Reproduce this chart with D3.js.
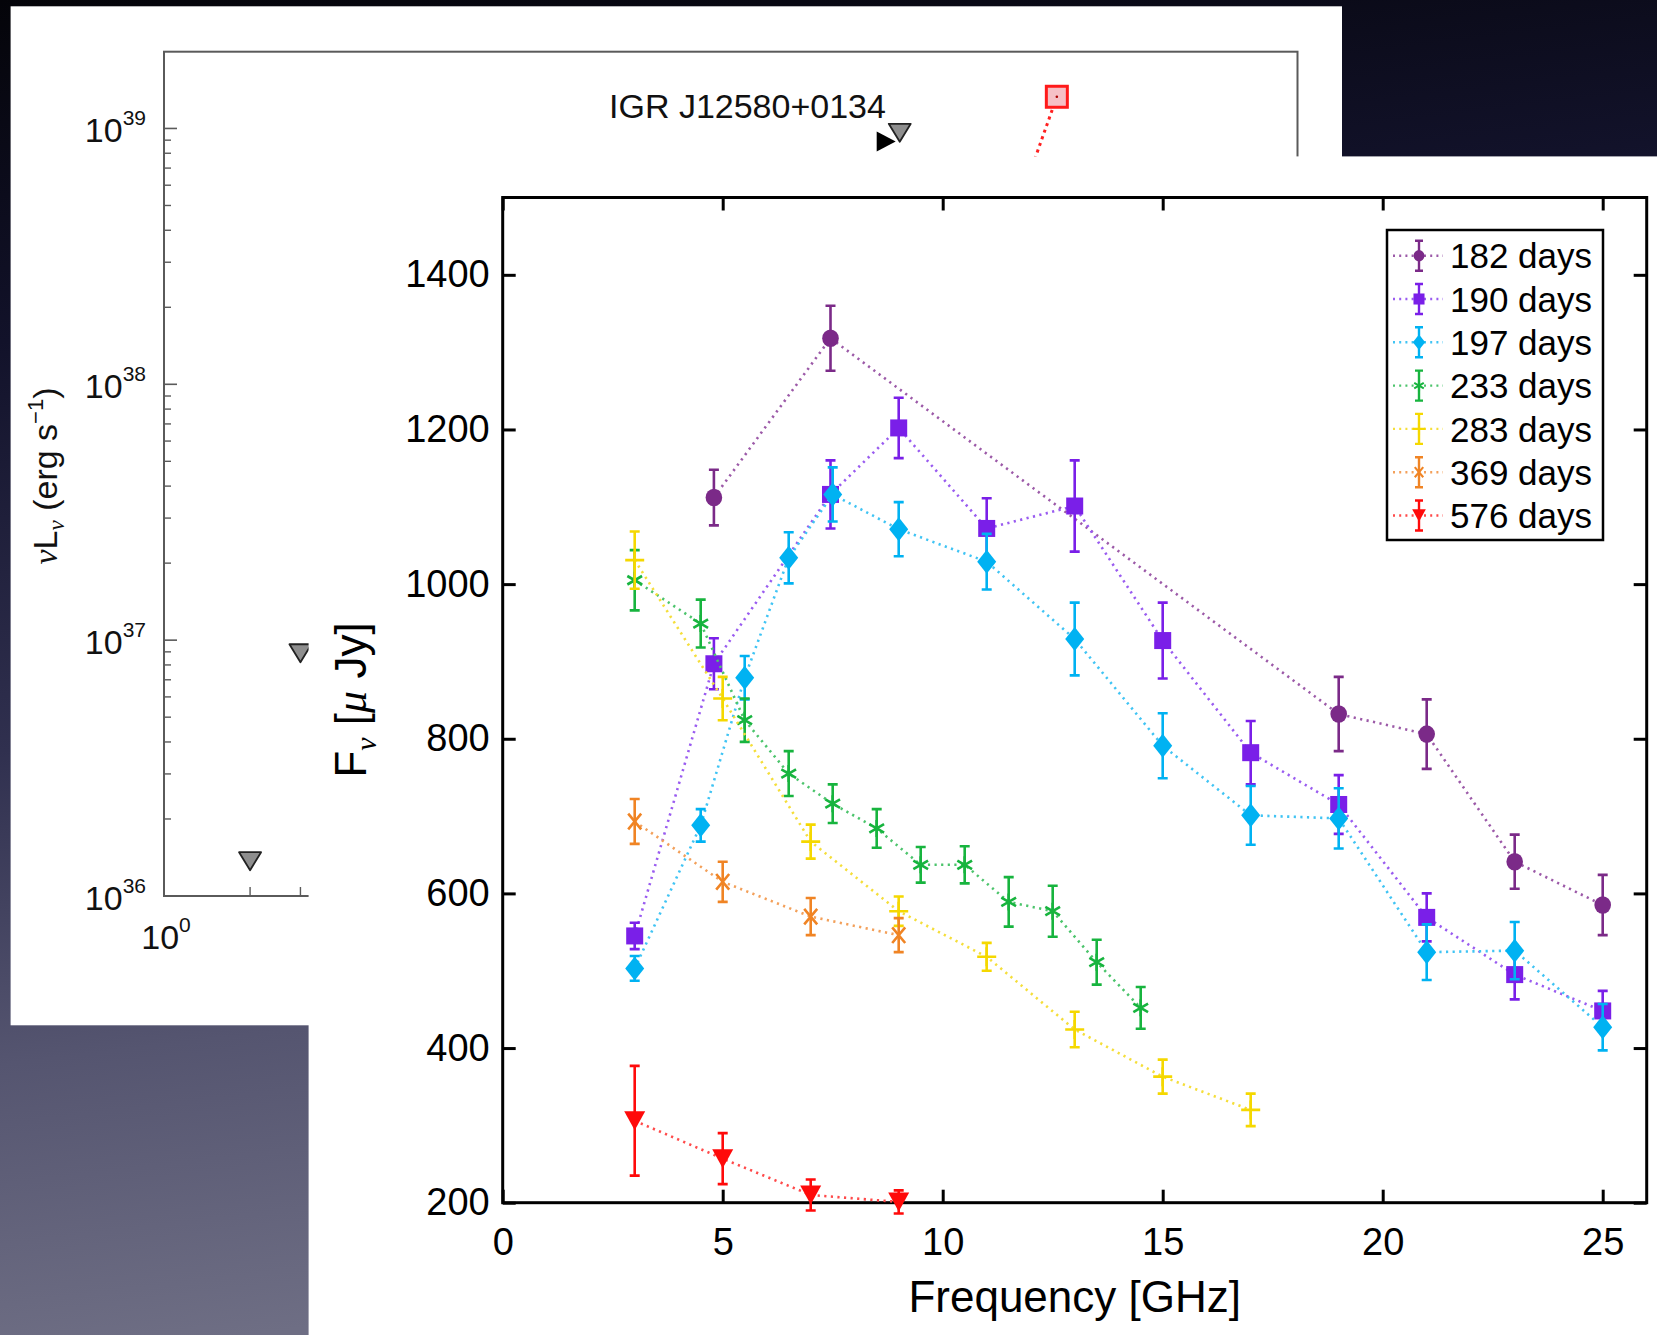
<!DOCTYPE html>
<html><head><meta charset="utf-8">
<script src="https://cdn.jsdelivr.net/npm/d3@7"></script>
<style>html,body{margin:0;padding:0;overflow:hidden;background:#000}svg{display:block}</style>
</head><body>
<svg id="c" width="1657" height="1335"></svg>
<script>
// ---------- data: main chart (F_nu in microJy vs frequency in GHz) ----------
const seriesNames = ["182 days","190 days","197 days","233 days","283 days","369 days","576 days"];
const seriesColors = ["#7b2a88","#7a1fe8","#00b2f2","#17b43e","#f5d800","#f08424","#ff0a0a"];
const seriesLineColors = ["#9c5aa8","#9a5cf0","#40c4f4","#4cc46c","#f5de3a","#f3a05a","#ff4a4a"];
const seriesMarkers = ["circle","square","diamond","asterisk","plus","cross","triangleDown"];

const freq182 = [4.8, 7.45, 19, 21, 23, 25];
const flux182 = [1112, 1318, 832, 806, 641, 585];
const err182  = [36, 42, 48, 45, 35, 39];

const freq190 = [3, 4.8, 7.45, 9, 11, 13, 15, 17, 19, 21, 23, 25];
const flux190 = [545, 897, 1116, 1202, 1072, 1101, 927, 782, 715, 569, 495, 448];
const err190  = [17, 33, 44, 39, 39, 59, 49, 41, 38, 31, 32, 26];

const freq197 = [3, 4.5, 5.5, 6.5, 7.5, 9, 11, 13, 15, 17, 19, 21, 23, 25];
const flux197 = [503, 688, 879, 1034, 1116, 1071, 1029, 929, 791, 701, 697, 524, 526, 427];
const err197  = [16, 21, 28, 33, 35, 35, 36, 47, 42, 38, 39, 36, 37, 30];

const freq233 = [3, 4.5, 5.5, 6.5, 7.5, 8.5, 9.5, 10.5, 11.5, 12.5, 13.5, 14.5];
const flux233 = [1005, 949, 824, 755, 716, 684, 637, 637, 589, 577, 511, 452];
const err233  = [39, 31, 28, 29, 25, 25, 23, 24, 32, 33, 29, 27];

const freq283 = [3, 5, 7, 9, 11, 13, 15, 17];
const flux283 = [1031, 852, 667, 577, 518, 424, 363, 320];
const err283  = [37, 28, 22, 19, 18, 23, 22, 21];

const freq369 = [3, 5, 7, 9];
const flux369 = [693, 615, 570, 546];
const err369  = [29, 26, 24, 22];

const freq576 = [3, 5, 7, 9];
const flux576 = [306, 257, 210, 201];
const err576  = [71, 33, 20, 15];

const xTicks = [0, 5, 10, 15, 20, 25];
const yTicks = [200, 400, 600, 800, 1000, 1200, 1400];

// ---------- data: background (partly hidden) SED panel ----------
const backLimitFreq = [2, 3, 374];            // GHz, grey upper limits
const backLimitLum  = [1.38e36, 8.97e36, 9.7e38];
const backBlackFreq = [334];
const backBlackLum  = [8.9e38];
const backRedFreq   = [1325, 984];
const backRedLum    = [1.33e39, 5.2e38];
const backYDecades  = [36, 37, 38, 39];
const backXMinor    = [2, 3];

const allFreq = [freq182,freq190,freq197,freq233,freq283,freq369,freq576];
const allFlux = [flux182,flux190,flux197,flux233,flux283,flux369,flux576];
const allErr  = [err182,err190,err197,err233,err283,err369,err576];

const W = 1657, H = 1335;
const FONT = "'Liberation Sans', Arial, Helvetica, sans-serif";
const SERIF = "'Liberation Serif', 'DejaVu Serif', serif";
const svg = d3.select("#c");

// ---------- background ----------
const defs = svg.append("defs");
const grad = defs.append("linearGradient").attr("id","bg")
  .attr("x1",0).attr("y1",0).attr("x2",0.15).attr("y2",1);
[[0,"#040409"],[0.25,"#12122a"],[0.55,"#30304f"],[0.78,"#555570"],[1,"#6e6e84"]]
  .forEach(s => grad.append("stop").attr("offset",s[0]).attr("stop-color",s[1]));
svg.append("rect").attr("width",W).attr("height",H).attr("fill","url(#bg)");

// ---------- back panel ----------
svg.append("rect").attr("x",10.6).attr("y",6.3).attr("width",1331.4).attr("height",1019).attr("fill","#fff");
const bx = d3.scaleLog().domain([1, 9200]).range([164, 1297.5]);
const by = d3.scaleLog().domain([1e36, Math.pow(10,39.3)]).range([896, 51.7]);
const back = svg.append("g");
back.append("rect").attr("x",bx.range()[0]).attr("y",by.range()[1])
  .attr("width",bx.range()[1]-bx.range()[0]).attr("height",by.range()[0]-by.range()[1])
  .attr("fill","none").attr("stroke","#5a5a5a").attr("stroke-width",2);
backYDecades.forEach(d => {
  const yy = by(Math.pow(10,d));
  back.append("line").attr("x1",164).attr("x2",177).attr("y1",yy).attr("y2",yy).attr("stroke","#5a5a5a").attr("stroke-width",1.6);
  for (let m = 2; m <= 9; m++) {
    const v = m*Math.pow(10,d);
    if (v > by.domain()[1]) break;
    const ym = by(v);
    back.append("line").attr("x1",164).attr("x2",171).attr("y1",ym).attr("y2",ym).attr("stroke","#5a5a5a").attr("stroke-width",1.4);
  }
  const t = back.append("text").attr("x",146).attr("y",yy+14).attr("text-anchor","end")
    .attr("font-family",FONT).attr("font-size",34).attr("fill","#111");
  t.append("tspan").text("10");
  t.append("tspan").attr("dy",-17).attr("font-size",21).text(String(d));
});
backXMinor.forEach(v => {
  back.append("line").attr("x1",bx(v)).attr("x2",bx(v)).attr("y1",896).attr("y2",887).attr("stroke","#5a5a5a").attr("stroke-width",1.4);
});
{
  const t = back.append("text").attr("x",166).attr("y",949).attr("text-anchor","middle")
    .attr("font-family",FONT).attr("font-size",34).attr("fill","#111");
  t.append("tspan").text("10");
  t.append("tspan").attr("dy",-17).attr("font-size",21).text("0");
}
{
  const t = back.append("text").attr("transform","translate(57,476) rotate(-90)")
    .attr("text-anchor","middle").attr("font-family",FONT).attr("font-size",34).attr("fill","#111");
  t.append("tspan").attr("font-family",SERIF).attr("font-style","italic").text("ν");
  t.append("tspan").text("L");
  t.append("tspan").attr("font-family",SERIF).attr("font-style","italic").attr("font-size",23).attr("dy",7).text("ν");
  t.append("tspan").attr("dy",-7).text(" (erg s");
  t.append("tspan").attr("font-size",22).attr("dy",-14).text("−1");
  t.append("tspan").attr("dy",14).text(")");
}
back.append("text").attr("x",609).attr("y",118).attr("font-family",FONT).attr("font-size",34)
  .attr("fill","#111").text("IGR J12580+0134");
// red dotted connector + square
back.append("path").attr("d",d3.line()(backRedFreq.map((f,i)=>[bx(f),by(backRedLum[i])])))
  .attr("fill","none").attr("stroke","#ff2020").attr("stroke-width",3).attr("stroke-dasharray","3,4");
back.append("rect").attr("x",bx(backRedFreq[0])-10.5).attr("y",by(backRedLum[0])-10.5).attr("width",21).attr("height",21)
  .attr("fill","#f6c0c6").attr("stroke","#ff1a1a").attr("stroke-width",3);
back.append("circle").attr("cx",bx(backRedFreq[0])).attr("cy",by(backRedLum[0])).attr("r",1.3).attr("fill","#a00");
backBlackFreq.forEach((f,i)=>{
  const cx=bx(f), cy=by(backBlackLum[i]);
  back.append("path").attr("d",`M${cx-9},${cy-10}L${cx+10},${cy}L${cx-9},${cy+10}Z`).attr("fill","#000");
});
backLimitFreq.forEach((f,i)=>{
  const cx=bx(f), cy=by(backLimitLum[i]);
  back.append("path").attr("d",`M${cx-11},${cy-8}L${cx+11},${cy-8}L${cx},${cy+10}Z`)
    .attr("fill","#8e8e8e").attr("stroke","#222").attr("stroke-width",1.8).attr("stroke-linejoin","round");
});

// ---------- front panel ----------
svg.append("rect").attr("x",308.6).attr("y",156.4).attr("width",W-308.6).attr("height",H-156.4).attr("fill","#fff");
const x = d3.scaleLinear().domain([0,26]).range([502.7,1646.7]);
const y = d3.scaleLinear().domain([200,1500]).range([1202.7,197.5]);
const front = svg.append("g");

function styleAxis(g){
  g.selectAll(".domain").remove();
  g.selectAll(".tick line").attr("stroke","#000").attr("stroke-width",3);
  g.selectAll("text").attr("font-family",FONT).attr("font-size",38).attr("fill","#000");
}
front.append("g").attr("transform",`translate(0,${y.range()[0]})`)
  .call(d3.axisBottom(x).tickValues(xTicks).tickSize(-13).tickPadding(25).tickFormat(d3.format("d"))).call(styleAxis);
front.append("g").attr("transform",`translate(0,${y.range()[1]})`)
  .call(d3.axisTop(x).tickValues(xTicks).tickSize(-13).tickFormat("")).call(styleAxis);
front.append("g").attr("transform",`translate(${x.range()[0]},0)`)
  .call(d3.axisLeft(y).tickValues(yTicks).tickSize(-13).tickPadding(13).tickFormat(d3.format("d"))).call(styleAxis);
front.append("g").attr("transform",`translate(${x.range()[1]},0)`)
  .call(d3.axisRight(y).tickValues(yTicks).tickSize(-13).tickFormat("")).call(styleAxis);
front.append("rect").attr("x",x.range()[0]).attr("y",y.range()[1])
  .attr("width",x.range()[1]-x.range()[0]).attr("height",y.range()[0]-y.range()[1])
  .attr("fill","none").attr("stroke","#000").attr("stroke-width",3);

front.append("text").attr("x",(x.range()[0]+x.range()[1])/2).attr("y",1312).attr("text-anchor","middle")
  .attr("font-family",FONT).attr("font-size",44).attr("fill","#000").text("Frequency [GHz]");
{
  const t = front.append("text").attr("transform","translate(366,700) rotate(-90)")
    .attr("text-anchor","middle").attr("font-family",FONT).attr("font-size",44).attr("fill","#000");
  t.append("tspan").text("F");
  t.append("tspan").attr("font-family",SERIF).attr("font-style","italic").attr("font-size",30).attr("dy",10).text("ν");
  t.append("tspan").attr("dy",-10).text(" [");
  t.append("tspan").attr("font-family",SERIF).attr("font-style","italic").text("μ");
  t.append("tspan").text(" Jy]");
}

// marker drawing
function drawMarker(g, type, cx, cy, color, k){
  k = k || 1;
  if (type==="circle") {
    g.append("ellipse").attr("cx",cx).attr("cy",cy).attr("rx",8.3*k).attr("ry",8.8*k).attr("fill",color);
  } else if (type==="square") {
    g.append("rect").attr("x",cx-8.5*k).attr("y",cy-8.5*k).attr("width",17*k).attr("height",17*k).attr("fill",color);
  } else if (type==="diamond") {
    g.append("path").attr("d",`M${cx},${cy-12*k}L${cx+9.5*k},${cy}L${cx},${cy+12*k}L${cx-9.5*k},${cy}Z`).attr("fill",color);
  } else if (type==="asterisk") {
    const r=8.5*k, p=[];
    [90,30,-30].forEach(a=>{const rad=a*Math.PI/180; p.push(`M${cx-r*Math.cos(rad)},${cy-r*Math.sin(rad)}L${cx+r*Math.cos(rad)},${cy+r*Math.sin(rad)}`);});
    g.append("path").attr("d",p.join("")).attr("stroke",color).attr("stroke-width",2.6*Math.max(k,0.8)).attr("fill","none");
  } else if (type==="plus") {
    const r=9.5*k;
    g.append("path").attr("d",`M${cx-r},${cy}L${cx+r},${cy}M${cx},${cy-r}L${cx},${cy+r}`).attr("stroke",color).attr("stroke-width",2.6*Math.max(k,0.8)).attr("fill","none");
  } else if (type==="cross") {
    const r=6.5*k;
    g.append("path").attr("d",`M${cx-r},${cy-r*1.2}L${cx+r},${cy+r*1.2}M${cx+r},${cy-r*1.2}L${cx-r},${cy+r*1.2}`).attr("stroke",color).attr("stroke-width",2.6*Math.max(k,0.8)).attr("fill","none");
  } else if (type==="triangleDown") {
    g.append("path").attr("d",`M${cx-10.5*k},${cy-9.5*k}L${cx+10.5*k},${cy-9.5*k}L${cx},${cy+9.5*k}Z`).attr("fill",color);
  }
}
function errBar(g, cx, y1, y2, color, cap, w){
  g.append("path").attr("d",`M${cx},${y1}L${cx},${y2}M${cx-cap},${y1}L${cx+cap},${y1}M${cx-cap},${y2}L${cx+cap},${y2}`)
    .attr("stroke",color).attr("stroke-width",w).attr("fill","none");
}

const line = d3.line();
seriesNames.forEach((name,si)=>{
  const g = front.append("g");
  const fr = allFreq[si], fl = allFlux[si], er = allErr[si];
  const col = seriesColors[si];
  g.append("path").attr("d",line(fr.map((f,i)=>[x(f),y(fl[i])])))
    .attr("fill","none").attr("stroke",seriesLineColors[si]).attr("stroke-width",2.6).attr("stroke-dasharray","2.2,4.4");
  fr.forEach((f,i)=>errBar(g, x(f), y(fl[i]+er[i]), y(fl[i]-er[i]), col, 5, 2.6));
  fr.forEach((f,i)=>drawMarker(g, seriesMarkers[si], x(f), y(fl[i]), col, 1));
});

// legend
const leg = front.append("g");
leg.append("rect").attr("x",1387).attr("y",230).attr("width",216).attr("height",310)
  .attr("fill","#fff").attr("stroke","#000").attr("stroke-width",2.5);
seriesNames.forEach((name,si)=>{
  const yy = 255.7 + 43.3*si, cx = 1419;
  leg.append("line").attr("x1",1393).attr("x2",1443).attr("y1",yy).attr("y2",yy)
    .attr("stroke",seriesLineColors[si]).attr("stroke-width",2.4).attr("stroke-dasharray","2,4.2");
  errBar(leg, cx, yy-15, yy+15, seriesColors[si], 4, 2.4);
  drawMarker(leg, seriesMarkers[si], cx, yy, seriesColors[si], 0.65);
  leg.append("text").attr("x",1450).attr("y",yy).attr("dy","0.36em")
    .attr("font-family",FONT).attr("font-size",35).attr("fill","#000").text(name);
});
</script>
</body></html>
